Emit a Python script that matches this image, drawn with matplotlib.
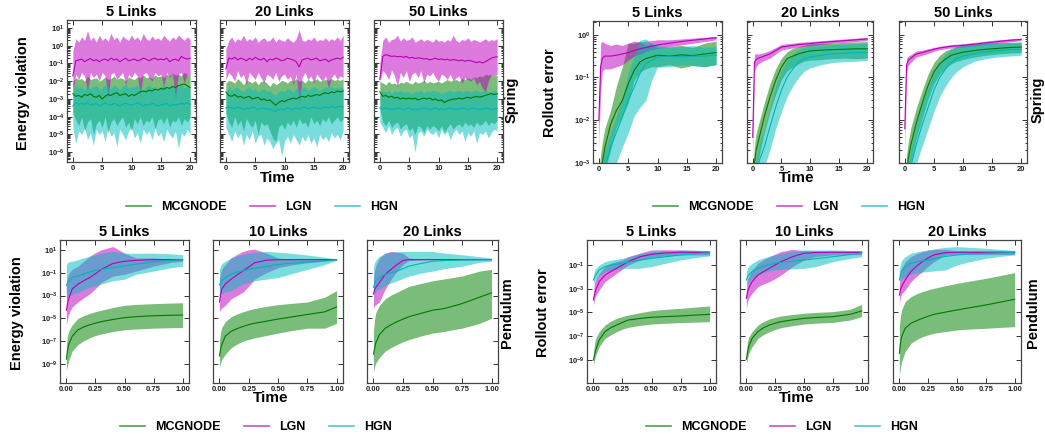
import numpy as np
import matplotlib
matplotlib.use("Agg")
import matplotlib.pyplot as plt
from matplotlib.lines import Line2D
from matplotlib.ticker import LogLocator, NullLocator, NullFormatter, LogFormatterSciNotation

plt.rcParams['font.family'] = 'Liberation Sans'
plt.rcParams['font.weight'] = 'bold'
plt.rcParams['mathtext.fontset'] = 'custom'
plt.rcParams['mathtext.rm'] = 'Liberation Sans:bold'
plt.rcParams['mathtext.bf'] = 'Liberation Sans:bold'
plt.rcParams['mathtext.it'] = 'Liberation Sans:bold'

# ---------------- data (all values are log10) ----------------
# spring, energy violation, time grid 0..20 step 0.5
t_se = np.linspace(0, 20, 41)

se5_lgn_mid = [-1.7, -0.85, -0.8, -0.75, -0.9, -0.8, -0.72, -0.85, -0.78, -0.9,
               -0.8, -0.75, -0.85, -0.7, -0.8, -0.75, -0.9, -0.8, -0.7, -0.85,
               -0.8, -0.75, -0.85, -0.8, -0.7, -0.75, -0.85, -0.75, -0.7, -0.8,
               -0.75, -0.8, -0.7, -0.9, -0.8, -0.75, -0.85, -0.6, -0.7, -0.75, -0.7]
se5_lgn_hi = [-0.3, 0.4, 0.2, 0.5, 0.3, 0.85, 0.3, 0.5, 0.2, 0.6,
              0.3, 0.45, 0.25, 0.7, 0.35, 0.5, 0.2, 0.55, 0.4, 0.3,
              0.6, 0.35, 0.5, 0.25, 0.7, 0.4, 0.3, 0.55, 0.35, 0.45,
              0.3, 0.6, 0.4, 0.25, 0.5, 0.35, 0.6, 0.45, 0.3, 0.5, 0.35]
se5_lgn_lo = [-2.6, -1.6, -1.9, -1.5, -1.7, -2.6, -1.5, -1.8, -1.6, -2.0,
              -1.5, -1.7, -2.9, -1.6, -1.5, -1.9, -1.7, -1.5, -2.2, -1.6,
              -1.8, -1.5, -1.7, -2.8, -1.6, -1.5, -1.8, -2.0, -1.5, -1.7,
              -1.6, -2.3, -1.5, -1.8, -1.6, -3.0, -1.6, -1.5, -2.1, -1.6, -1.7]
se5_mcg_mid = [-2.7, -2.85, -2.8, -2.9, -2.75, -2.8, -2.7, -2.85, -2.9, -2.8,
               -3.0, -2.85, -2.75, -2.8, -2.7, -2.65, -2.8, -2.75, -2.7, -2.85,
               -2.75, -2.8, -2.7, -2.6, -2.55, -2.6, -2.5, -2.55, -2.45, -2.5,
               -2.4, -2.45, -2.35, -2.4, -2.3, -2.35, -2.25, -2.2, -2.15, -2.25, -2.35]
se5_mcg_hi = [-2.0, -1.8, -1.9, -1.85, -2.0, -1.7, -1.9, -1.85, -1.8, -2.0,
              -1.9, -1.75, -1.9, -1.85, -1.7, -1.9, -1.8, -1.85, -2.0, -1.75,
              -1.85, -1.9, -1.75, -1.8, -1.65, -1.8, -1.75, -1.85, -1.65, -1.75,
              -1.7, -1.8, -1.6, -1.7, -1.55, -1.65, -1.6, -1.7, -1.5, -1.6, -1.7]
se5_mcg_lo = [-3.8, -4.2, -4.5, -4.0, -4.8, -4.3, -4.1, -5.0, -4.4, -4.2,
              -4.6, -4.0, -4.9, -4.3, -4.1, -4.5, -4.2, -4.0, -4.6, -4.3,
              -4.8, -4.1, -4.4, -4.0, -4.5, -4.2, -4.3, -4.0, -4.7, -4.2,
              -4.1, -4.4, -4.0, -4.6, -4.2, -4.3, -4.0, -4.5, -4.1, -4.3, -4.0]
se5_hgn_mid = [-3.4, -3.2, -3.3, -3.25, -3.3, -3.2, -3.35, -3.3, -3.25, -3.4,
               -3.3, -3.2, -3.3, -3.35, -3.25, -3.3, -3.4, -3.3, -3.25, -3.3,
               -3.35, -3.3, -3.2, -3.3, -3.4, -3.3, -3.35, -3.25, -3.3, -3.4,
               -3.35, -3.3, -3.25, -3.4, -3.3, -3.35, -3.3, -3.25, -3.3, -3.2, -3.3]
se5_hgn_hi = [-2.6, -2.2, -2.4, -2.3, -2.5, -2.2, -2.4, -2.3, -2.2, -2.5,
              -2.4, -2.2, -2.3, -2.45, -2.2, -2.3, -2.5, -2.3, -2.2, -2.4,
              -2.3, -2.35, -2.2, -2.4, -2.5, -2.3, -2.2, -2.35, -2.3, -2.5,
              -2.3, -2.2, -2.4, -2.3, -2.2, -2.45, -2.3, -2.2, -2.35, -2.3, -2.4]
se5_hgn_lo = [-4.6, -5.5, -4.8, -5.0, -4.6, -5.3, -4.9, -5.6, -4.7, -5.0,
              -4.8, -5.4, -4.6, -5.1, -4.9, -5.7, -4.7, -5.0, -5.3, -4.8,
              -4.6, -5.2, -4.9, -5.5, -4.7, -5.0, -4.8, -5.3, -4.6, -5.1,
              -4.9, -5.4, -4.7, -5.0, -5.2, -4.8, -5.8, -4.9, -5.1, -4.7, -5.0]

se20_lgn_mid = [-1.3, -0.7, -0.75, -0.65, -0.8, -0.7, -0.75, -0.85, -0.7, -0.8,
                -0.65, -0.75, -0.8, -0.7, -0.9, -0.75, -0.8, -0.7, -0.75, -0.85,
                -0.8, -0.7, -0.75, -0.8, -0.9, -1.2, -0.8, -0.75, -0.7, -0.8,
                -0.75, -0.7, -0.85, -0.8, -0.75, -0.9, -0.8, -0.75, -0.7, -0.75, -0.65]
se20_lgn_hi = [-0.2, 0.3, 0.5, 0.2, 0.4, 0.3, 0.6, 0.25, 0.4, 0.3,
               0.5, 0.2, 0.35, 0.45, 0.25, 0.3, 0.5, 0.2, 0.4, 0.3,
               0.25, 0.45, 0.3, 0.2, 0.4, 0.9, 0.3, 0.25, 0.4, 0.3,
               0.5, 0.25, 0.35, 0.3, 0.45, 0.25, 0.4, 0.3, 0.5, 0.3, 0.6]
se20_lgn_lo = [-1.9, -1.5, -1.7, -2.0, -1.4, -1.8, -1.6, -2.2, -1.5, -1.7,
               -1.9, -1.5, -1.8, -2.1, -1.6, -1.7, -1.9, -1.5, -2.0, -1.7,
               -1.6, -1.9, -1.7, -2.2, -1.6, -3.3, -1.8, -1.5, -1.9, -1.7,
               -2.1, -1.6, -1.8, -2.0, -1.7, -2.4, -1.8, -1.6, -1.9, -1.7, -1.8]
se20_mcg_mid = [-2.6, -2.8, -2.85, -2.75, -2.9, -2.85, -2.95, -2.9, -2.85, -3.0,
                -2.95, -2.9, -3.05, -3.0, -3.1, -3.05, -3.2, -3.35, -3.2, -3.1,
                -3.15, -3.05, -3.0, -2.95, -3.0, -2.9, -2.85, -2.9, -2.8, -2.85,
                -2.8, -2.75, -2.8, -2.7, -2.65, -2.7, -2.6, -2.65, -2.55, -2.6, -2.55]
se20_mcg_hi = [-2.1, -1.95, -2.0, -2.1, -1.85, -2.0, -2.2, -1.95, -2.0, -2.1,
               -1.95, -2.2, -2.0, -2.0, -2.1, -2.3, -2.05, -2.2, -2.1, -1.95,
               -2.0, -2.1, -1.95, -2.0, -1.85, -2.0, -1.95, -2.1, -1.9, -2.0,
               -1.95, -1.85, -2.0, -1.95, -1.9, -1.95, -1.85, -1.95, -1.9, -1.95, -1.85]
se20_mcg_lo = [-3.8, -4.3, -4.6, -4.0, -4.5, -4.2, -4.8, -4.1, -4.4, -4.6,
               -4.2, -5.0, -4.3, -4.5, -4.4, -4.8, -5.2, -5.4, -4.6, -4.4,
               -4.7, -4.3, -4.5, -4.2, -4.6, -4.1, -4.4, -4.3, -4.6, -4.0,
               -4.4, -4.2, -4.5, -4.1, -4.3, -4.0, -4.4, -4.2, -4.0, -4.3, -4.1]
se20_hgn_mid = [-3.5, -3.45, -3.5, -3.55, -3.45, -3.5, -3.6, -3.5, -3.55, -3.45,
                -3.5, -3.6, -3.55, -3.5, -3.6, -3.55, -3.65, -3.7, -3.6, -3.55,
                -3.6, -3.5, -3.55, -3.6, -3.5, -3.55, -3.5, -3.45, -3.55, -3.5,
                -3.45, -3.5, -3.55, -3.5, -3.45, -3.5, -3.4, -3.5, -3.45, -3.4, -3.45]
se20_hgn_hi = [-2.7, -2.3, -2.5, -2.4, -2.3, -2.5, -2.6, -2.4, -2.3, -2.5,
               -2.4, -2.6, -2.5, -2.4, -2.6, -2.5, -2.7, -2.8, -2.6, -2.5,
               -2.6, -2.4, -2.5, -2.6, -2.4, -2.5, -2.4, -2.3, -2.5, -2.4,
               -2.3, -2.4, -2.5, -2.4, -2.3, -2.4, -2.3, -2.4, -2.35, -2.3, -2.4]
se20_hgn_lo = [-4.6, -5.0, -5.4, -4.8, -5.2, -4.9, -5.6, -5.0, -5.3, -4.8,
               -5.5, -5.1, -5.0, -5.6, -5.2, -5.4, -5.8, -5.5, -5.3, -6.2,
               -5.4, -5.1, -5.5, -5.0, -5.3, -5.6, -5.1, -5.4, -5.0, -5.5,
               -5.2, -5.7, -5.0, -5.3, -5.1, -5.4, -4.9, -5.2, -5.0, -5.3, -4.8]

se50_lgn_mid = [-1.9, -0.6, -0.5, -0.55, -0.6, -0.58, -0.62, -0.6, -0.65, -0.6,
                -0.7, -0.65, -0.72, -0.68, -0.7, -0.75, -0.72, -0.8, -0.75, -0.7,
                -0.78, -0.74, -0.8, -0.76, -0.82, -0.78, -0.8, -0.85, -0.8, -0.88,
                -0.82, -0.85, -0.9, -0.95, -0.9, -0.97, -0.9, -0.8, -0.7, -0.65, -0.62]
se50_lgn_hi = [-1.0, 0.3, 0.5, 0.2, 0.35, 0.4, 0.6, 0.25, 0.45, 0.3,
               0.35, 0.5, 0.2, 0.3, 0.4, 0.25, 0.35, 0.3, 0.2, 0.4,
               0.25, 0.3, 0.2, 0.35, 0.25, 0.6, 0.3, 0.2, 0.35, 0.3,
               0.45, 0.25, 0.35, 0.3, 0.2, 0.3, 0.4, 0.25, 0.35, 0.3, 0.4]
se50_lgn_lo = [-2.0, -1.4, -1.6, -1.9, -1.35, -1.7, -2.3, -1.5, -1.8, -1.4,
               -2.0, -1.6, -1.5, -1.8, -1.4, -2.1, -1.6, -1.7, -1.5, -1.8,
               -2.0, -1.6, -1.7, -1.9, -1.6, -2.0, -1.8, -1.7, -2.1, -1.8,
               -1.9, -2.0, -1.8, -2.2, -2.0, -2.4, -2.6, -2.0, -1.6, -1.7, -1.6]
se50_mcg_mid = [-2.6, -2.85, -2.8, -2.9, -2.85, -2.95, -2.9, -3.0, -2.95, -3.0,
                -2.95, -3.0, -2.95, -3.05, -3.0, -2.95, -3.0, -2.95, -3.05, -3.0,
                -3.1, -3.05, -3.2, -3.1, -3.05, -3.0, -3.0, -2.95, -3.0, -2.95,
                -2.9, -2.95, -2.9, -2.85, -2.9, -2.85, -2.8, -2.75, -2.7, -2.75, -2.7]
se50_mcg_hi = [-2.0, -2.1, -2.2, -2.0, -2.15, -2.1, -2.2, -2.05, -2.1, -2.0,
               -2.1, -2.15, -2.0, -2.1, -2.05, -1.95, -2.1, -2.0, -2.1, -2.05,
               -2.0, -2.1, -2.0, -1.9, -2.0, -1.95, -1.9, -2.0, -1.85, -1.9,
               -1.8, -1.9, -1.75, -1.8, -1.7, -1.75, -1.6, -1.65, -1.6, -1.7, -1.65]
se50_mcg_lo = [-3.6, -4.3, -4.5, -4.2, -4.6, -4.4, -4.3, -4.7, -4.5, -4.4,
               -4.8, -4.6, -5.0, -4.5, -4.6, -4.9, -4.5, -4.7, -4.5, -4.6,
               -4.8, -4.5, -4.9, -4.6, -4.4, -4.7, -4.5, -4.4, -4.6, -4.3,
               -4.5, -4.4, -4.6, -4.3, -4.5, -4.4, -4.2, -4.5, -4.3, -4.4, -4.2]
se50_hgn_mid = [-3.5, -3.55, -3.5, -3.55, -3.6, -3.55, -3.5, -3.55, -3.6, -3.55,
                -3.5, -3.6, -3.55, -3.6, -3.55, -3.5, -3.55, -3.6, -3.55, -3.5,
                -3.6, -3.55, -3.6, -3.55, -3.5, -3.55, -3.6, -3.55, -3.5, -3.55,
                -3.6, -3.55, -3.5, -3.55, -3.6, -3.55, -3.5, -3.55, -3.6, -3.55, -3.55]
se50_hgn_hi = [-2.8, -2.5, -2.6, -2.5, -2.7, -2.55, -2.6, -2.5, -2.65, -2.55,
               -2.6, -2.7, -2.55, -2.6, -2.5, -2.65, -2.55, -2.6, -2.5, -2.55,
               -2.6, -2.7, -2.6, -2.55, -2.5, -2.6, -2.55, -2.5, -2.6, -2.55,
               -2.5, -2.6, -2.55, -2.5, -2.6, -2.55, -2.5, -2.6, -2.55, -2.5, -2.6]
se50_hgn_lo = [-4.3, -4.6, -4.9, -4.5, -5.0, -4.7, -4.6, -5.1, -4.8, -4.7,
               -5.2, -5.0, -6.0, -4.9, -4.8, -5.1, -4.7, -4.9, -5.0, -4.8,
               -5.2, -4.7, -5.0, -4.8, -5.3, -4.9, -4.7, -5.0, -4.8, -5.4,
               -4.9, -5.1, -4.8, -5.5, -4.9, -5.0, -4.8, -5.2, -4.9, -4.7, -4.8]

# spring, rollout error
t_sr = [0, 0.3, 0.6, 1, 2, 3, 4, 5, 6, 7, 8, 9, 10, 12, 14, 16, 18, 20]

sr5_lgn_mid = [-2.0, -0.75, -0.55, -0.5, -0.5, -0.48, -0.45, -0.42, -0.37, -0.33, -0.3, -0.27, -0.24, -0.2, -0.16, -0.13, -0.1, -0.07]
sr5_lgn_hi = [-1.6, -0.2, -0.15, -0.2, -0.25, -0.22, -0.25, -0.2, -0.15, -0.18, -0.15, -0.14, -0.12, -0.12, -0.1, -0.08, -0.06, -0.04]
sr5_lgn_lo = [-2.6, -1.3, -0.85, -0.8, -0.8, -0.75, -0.7, -0.6, -0.5, -0.45, -0.4, -0.35, -0.32, -0.28, -0.24, -0.2, -0.16, -0.12]
sr5_mcg_mid = [-3.6, -3.3, -3.0, -2.65, -2.1, -1.77, -1.54, -1.15, -0.84, -0.64, -0.56, -0.52, -0.48, -0.5, -0.47, -0.49, -0.45, -0.42]
sr5_mcg_hi = [-3.2, -2.8, -2.5, -2.2, -1.77, -1.2, -0.75, -0.2, -0.2, -0.15, -0.25, -0.2, -0.3, -0.28, -0.25, -0.3, -0.2, -0.15]
sr5_mcg_lo = [-4.2, -3.9, -3.6, -3.2, -2.7, -2.16, -1.9, -1.6, -1.07, -0.87, -0.8, -0.75, -0.75, -0.7, -0.78, -0.72, -0.75, -0.7]
sr5_hgn_mid = [-4.0, -3.7, -3.4, -3.1, -2.63, -2.28, -1.93, -1.54, -1.23, -0.91, -0.68, -0.6, -0.52, -0.5, -0.52, -0.5, -0.5, -0.48]
sr5_hgn_hi = [-3.6, -3.3, -3.0, -2.7, -2.3, -1.9, -1.5, -0.9, -0.5, -0.13, -0.1, -0.2, -0.25, -0.3, -0.28, -0.25, -0.3, -0.28]
sr5_hgn_lo = [-4.5, -4.2, -3.9, -3.6, -3.2, -3.0, -2.63, -2.3, -1.9, -1.7, -1.54, -1.07, -0.76, -0.75, -0.7, -0.72, -0.75, -0.7]

sr20_lgn_mid = [-2.4, -0.64, -0.58, -0.55, -0.5, -0.45, -0.37, -0.29, -0.27, -0.25, -0.23, -0.22, -0.21, -0.18, -0.16, -0.14, -0.12, -0.1]
sr20_lgn_hi = [-1.9, -0.45, -0.45, -0.45, -0.42, -0.37, -0.3, -0.23, -0.21, -0.2, -0.18, -0.17, -0.16, -0.14, -0.12, -0.1, -0.08, -0.06]
sr20_lgn_lo = [-3.0, -0.85, -0.75, -0.68, -0.6, -0.55, -0.45, -0.36, -0.33, -0.31, -0.29, -0.27, -0.26, -0.23, -0.2, -0.18, -0.16, -0.14]
sr20_mcg_mid = [-3.6, -3.0, -2.7, -2.48, -1.93, -1.46, -1.07, -0.76, -0.56, -0.5, -0.45, -0.41, -0.38, -0.36, -0.35, -0.34, -0.33, -0.33]
sr20_mcg_hi = [-3.2, -2.6, -2.3, -2.1, -1.6, -1.15, -0.8, -0.55, -0.4, -0.32, -0.28, -0.25, -0.22, -0.2, -0.2, -0.18, -0.17, -0.16]
sr20_mcg_lo = [-4.2, -3.4, -3.1, -2.9, -2.3, -1.8, -1.4, -1.05, -0.85, -0.75, -0.68, -0.62, -0.6, -0.58, -0.56, -0.55, -0.56, -0.55]
sr20_hgn_mid = [-4.0, -3.6, -3.3, -3.0, -2.63, -2.16, -1.7, -1.3, -0.99, -0.8, -0.64, -0.57, -0.52, -0.48, -0.45, -0.43, -0.42, -0.41]
sr20_hgn_hi = [-3.6, -3.2, -2.9, -2.6, -2.2, -1.7, -1.2, -0.85, -0.6, -0.45, -0.35, -0.3, -0.27, -0.25, -0.23, -0.22, -0.21, -0.2]
sr20_hgn_lo = [-4.5, -4.1, -3.8, -3.5, -3.1, -2.7, -2.2, -1.8, -1.45, -1.2, -1.0, -0.85, -0.78, -0.7, -0.65, -0.63, -0.62, -0.6]

sr50_lgn_mid = [-2.2, -0.7, -0.6, -0.55, -0.45, -0.42, -0.38, -0.34, -0.31, -0.29, -0.27, -0.26, -0.25, -0.22, -0.19, -0.16, -0.13, -0.11]
sr50_lgn_hi = [-1.8, -0.55, -0.5, -0.47, -0.38, -0.36, -0.33, -0.3, -0.27, -0.25, -0.23, -0.22, -0.21, -0.18, -0.15, -0.12, -0.1, -0.08]
sr50_lgn_lo = [-2.8, -0.9, -0.72, -0.65, -0.52, -0.48, -0.44, -0.39, -0.35, -0.33, -0.31, -0.3, -0.29, -0.26, -0.23, -0.2, -0.17, -0.14]
sr50_mcg_mid = [-3.8, -3.2, -2.9, -2.6, -2.05, -1.6, -1.19, -0.87, -0.68, -0.57, -0.48, -0.44, -0.41, -0.37, -0.34, -0.32, -0.3, -0.29]
sr50_mcg_hi = [-3.4, -2.8, -2.5, -2.2, -1.7, -1.3, -0.92, -0.65, -0.48, -0.38, -0.32, -0.28, -0.25, -0.22, -0.2, -0.19, -0.18, -0.17]
sr50_mcg_lo = [-4.3, -3.6, -3.3, -3.0, -2.4, -1.95, -1.5, -1.15, -0.92, -0.78, -0.68, -0.62, -0.58, -0.52, -0.48, -0.45, -0.43, -0.42]
sr50_hgn_mid = [-4.2, -3.7, -3.4, -3.1, -2.55, -2.1, -1.7, -1.3, -1.0, -0.8, -0.65, -0.55, -0.5, -0.44, -0.4, -0.37, -0.35, -0.34]
sr50_hgn_hi = [-3.8, -3.3, -3.0, -2.7, -2.1, -1.6, -1.25, -0.9, -0.62, -0.45, -0.35, -0.28, -0.25, -0.22, -0.2, -0.2, -0.19, -0.18]
sr50_hgn_lo = [-4.7, -4.2, -3.9, -3.6, -3.0, -2.6, -2.2, -1.8, -1.45, -1.2, -1.0, -0.85, -0.75, -0.62, -0.56, -0.52, -0.5, -0.48]

# pendulum
t_p = [0, 0.01, 0.02, 0.05, 0.1, 0.15, 0.2, 0.25, 0.3, 0.4, 0.5, 0.6, 0.75, 0.9, 1.0]

pe5_hgn_mid = [-2.14, -1.9, -1.75, -1.43, -1.29, -1.1, -0.95, -0.8, -0.7, -0.55, -0.4, -0.25, -0.05, 0.08, 0.14]
pe5_hgn_hi = [-0.29, -0.15, -0.05, 0.0, 0.14, 0.3, 0.43, 0.55, 0.71, 0.86, 0.71, 0.7, 0.71, 0.65, 0.57]
pe5_hgn_lo = [-3.29, -3.1, -3.0, -2.9, -2.71, -2.5, -2.29, -2.15, -2.0, -1.71, -1.57, -1.14, -0.86, -0.57, -0.43]
pe5_lgn_mid = [-4.29, -3.7, -3.29, -2.43, -2.0, -1.7, -1.43, -1.1, -0.71, -0.2, 0.0, 0.08, 0.14, 0.14, 0.14]
pe5_lgn_hi = [-1.86, -1.4, -1.1, -0.7, -0.43, 0.0, 0.43, 0.75, 1.0, 1.29, 0.71, 0.29, 0.29, 0.2, 0.2]
pe5_lgn_lo = [-5.6, -5.0, -4.6, -4.0, -3.57, -3.2, -2.86, -2.4, -1.86, -1.3, -1.14, -0.86, -0.43, -0.1, 0.0]
pe5_mcg_mid = [-8.57, -7.8, -7.29, -6.57, -6.0, -5.75, -5.57, -5.42, -5.29, -5.1, -4.94, -4.85, -4.77, -4.73, -4.71]
pe5_mcg_hi = [-7.29, -6.5, -6.1, -5.57, -5.0, -4.75, -4.57, -4.42, -4.29, -4.05, -3.86, -3.78, -3.71, -3.66, -3.63]
pe5_mcg_lo = [-9.57, -9.1, -8.71, -7.86, -7.29, -6.95, -6.71, -6.5, -6.37, -6.15, -6.0, -5.93, -5.86, -5.82, -5.8]

pe10_hgn_mid = [-2.09, -1.85, -1.7, -1.43, -1.14, -0.95, -0.85, -0.71, -0.62, -0.45, -0.29, -0.18, -0.06, 0.05, 0.14]
pe10_hgn_hi = [-0.71, -0.4, -0.2, 0.0, 0.29, 0.45, 0.6, 0.71, 0.78, 0.86, 0.8, 0.71, 0.55, 0.35, 0.2]
pe10_hgn_lo = [-3.0, -2.9, -2.8, -2.7, -2.57, -2.3, -2.0, -1.85, -1.71, -1.57, -1.43, -1.14, -0.71, -0.29, 0.09]
pe10_lgn_mid = [-3.57, -2.9, -2.43, -2.0, -1.57, -1.2, -0.86, -0.5, -0.14, 0.09, 0.14, 0.14, 0.14, 0.14, 0.14]
pe10_lgn_hi = [-1.57, -1.0, -0.7, -0.29, 0.29, 0.6, 0.86, 1.0, 1.06, 0.71, 0.29, 0.15, 0.14, 0.14, 0.14]
pe10_lgn_lo = [-4.43, -4.2, -4.1, -3.86, -3.29, -3.0, -2.71, -2.2, -1.57, -1.0, -0.57, -0.35, -0.14, 0.0, 0.09]
pe10_mcg_mid = [-8.29, -7.7, -7.29, -6.57, -6.14, -5.9, -5.71, -5.55, -5.43, -5.25, -5.06, -4.9, -4.66, -4.43, -4.0]
pe10_mcg_hi = [-7.0, -6.2, -5.8, -5.29, -4.86, -4.62, -4.43, -4.27, -4.14, -3.95, -3.8, -3.7, -3.57, -3.14, -2.57]
pe10_mcg_lo = [-9.29, -8.9, -8.6, -8.14, -7.57, -7.25, -7.0, -6.85, -6.71, -6.5, -6.29, -6.1, -5.86, -5.86, -5.43]

pe20_hgn_mid = [-2.29, -1.9, -1.7, -1.43, -1.14, -1.0, -0.86, -0.65, -0.43, -0.2, 0.0, 0.06, 0.1, 0.12, 0.14]
pe20_hgn_hi = [-0.57, -0.1, 0.1, 0.43, 0.71, 0.78, 0.83, 0.85, 0.86, 0.86, 0.86, 0.72, 0.57, 0.4, 0.29]
pe20_hgn_lo = [-3.0, -2.8, -2.65, -2.43, -2.09, -1.9, -1.71, -1.5, -1.29, -1.05, -0.86, -0.65, -0.43, -0.09, 0.0]
pe20_lgn_mid = [-2.86, -2.5, -2.29, -1.86, -1.14, -0.7, -0.29, 0.06, 0.14, 0.14, 0.14, 0.14, 0.14, 0.14, 0.14]
pe20_lgn_hi = [-1.43, -0.8, -0.4, 0.29, 0.71, 0.86, 0.8, 0.71, 0.29, 0.15, 0.14, 0.14, 0.14, 0.14, 0.14]
pe20_lgn_lo = [-4.14, -3.9, -3.8, -3.57, -2.43, -1.57, -0.86, -0.29, 0.06, 0.12, 0.13, 0.14, 0.14, 0.14, 0.14]
pe20_mcg_mid = [-8.14, -7.6, -7.14, -6.43, -5.86, -5.55, -5.29, -5.07, -4.86, -4.57, -4.29, -4.14, -3.71, -3.14, -2.77]
pe20_mcg_hi = [-6.14, -5.0, -4.5, -3.86, -3.29, -2.95, -2.71, -2.45, -2.2, -1.95, -1.71, -1.55, -1.29, -0.86, -0.71]
pe20_mcg_lo = [-9.71, -9.2, -8.9, -8.43, -7.86, -7.55, -7.29, -7.05, -6.86, -6.55, -6.29, -6.14, -5.86, -5.43, -5.0]

pr5_hgn_mid = [-2.27, -2.05, -1.85, -1.42, -1.14, -1.0, -0.93, -0.86, -0.75, -0.6, -0.44, -0.33, -0.15, -0.03, 0.04]
pr5_hgn_hi = [-1.85, -1.5, -1.3, -1.0, -0.72, -0.6, -0.52, -0.44, -0.3, -0.05, 0.13, 0.2, 0.27, 0.25, 0.2]
pr5_hgn_lo = [-2.69, -2.4, -2.2, -1.85, -1.56, -1.45, -1.35, -1.28, -1.28, -1.28, -1.14, -0.9, -0.58, -0.35, -0.24]
pr5_lgn_mid = [-3.96, -3.5, -3.11, -2.41, -1.85, -1.55, -1.28, -1.0, -0.72, -0.3, -0.1, 0.0, 0.07, 0.07, 0.07]
pr5_lgn_hi = [-3.39, -2.5, -2.2, -1.7, -1.14, -0.85, -0.7, -0.58, -0.3, 0.0, 0.27, 0.28, 0.27, 0.22, 0.2]
pr5_lgn_lo = [-4.38, -3.9, -3.6, -3.11, -2.41, -2.05, -1.7, -1.35, -1.0, -0.58, -0.35, -0.25, -0.15, -0.15, -0.15]
pr5_mcg_mid = [-9.03, -8.6, -8.18, -7.34, -6.63, -6.3, -6.07, -5.85, -5.65, -5.52, -5.42, -5.37, -5.31, -5.22, -5.17]
pr5_mcg_hi = [-8.46, -7.6, -7.2, -6.63, -6.07, -5.75, -5.5, -5.35, -5.23, -5.03, -4.86, -4.76, -4.66, -4.54, -4.46]
pr5_mcg_lo = [-9.45, -9.0, -8.6, -7.9, -7.2, -6.9, -6.63, -6.42, -6.27, -6.1, -5.99, -5.93, -5.87, -5.82, -5.79]

pr10_hgn_mid = [-2.27, -2.0, -1.85, -1.56, -1.28, -1.1, -0.97, -0.86, -0.78, -0.68, -0.58, -0.48, -0.3, -0.12, 0.04]
pr10_hgn_hi = [-1.56, -1.25, -1.1, -0.86, -0.58, -0.4, -0.25, -0.15, -0.05, 0.15, 0.27, 0.27, 0.27, 0.23, 0.2]
pr10_hgn_lo = [-2.83, -2.6, -2.45, -2.13, -1.85, -1.65, -1.5, -1.42, -1.38, -1.32, -1.28, -1.14, -0.72, -0.45, -0.3]
pr10_lgn_mid = [-3.82, -3.3, -2.97, -2.41, -1.85, -1.55, -1.28, -1.0, -0.72, -0.3, -0.01, 0.05, 0.07, 0.07, 0.07]
pr10_lgn_hi = [-3.11, -2.3, -2.0, -1.42, -0.86, -0.55, -0.3, -0.08, 0.13, 0.32, 0.21, 0.2, 0.2, 0.2, 0.2]
pr10_lgn_lo = [-4.66, -4.1, -3.8, -3.39, -2.83, -2.6, -2.41, -2.15, -1.85, -1.14, -0.58, -0.3, -0.15, -0.13, -0.13]
pr10_mcg_mid = [-8.97, -8.4, -7.9, -7.2, -6.63, -6.3, -6.07, -5.92, -5.79, -5.64, -5.51, -5.44, -5.37, -5.17, -4.89]
pr10_mcg_hi = [-8.4, -7.5, -7.1, -6.63, -6.07, -5.78, -5.56, -5.42, -5.31, -5.18, -5.08, -5.01, -4.94, -4.75, -4.32]
pr10_mcg_lo = [-9.31, -8.9, -8.5, -7.9, -7.2, -6.88, -6.63, -6.45, -6.3, -6.13, -5.99, -5.92, -5.85, -5.65, -5.37]

pr20_hgn_mid = [-2.27, -1.8, -1.5, -1.14, -0.86, -0.75, -0.65, -0.58, -0.45, -0.28, -0.15, -0.08, -0.01, 0.03, 0.04]
pr20_hgn_hi = [-1.28, -0.9, -0.6, -0.3, -0.01, 0.1, 0.2, 0.27, 0.35, 0.5, 0.55, 0.5, 0.41, 0.3, 0.21]
pr20_hgn_lo = [-2.41, -2.25, -2.15, -1.99, -1.76, -1.68, -1.6, -1.56, -1.5, -1.42, -1.0, -0.75, -0.44, -0.25, -0.15]
pr20_lgn_mid = [-3.54, -3.1, -2.83, -2.27, -1.56, -1.1, -0.72, -0.4, -0.15, 0.04, 0.07, 0.07, 0.07, 0.07, 0.07]
pr20_lgn_hi = [-2.69, -1.7, -1.3, -0.72, -0.3, -0.05, 0.13, 0.25, 0.32, 0.32, 0.21, 0.2, 0.2, 0.2, 0.2]
pr20_lgn_lo = [-4.24, -3.7, -3.45, -3.11, -2.41, -1.95, -1.56, -1.1, -0.72, -0.15, -0.12, -0.12, -0.12, -0.12, -0.12]
pr20_mcg_mid = [-8.46, -7.6, -7.06, -6.35, -5.93, -5.7, -5.51, -5.33, -5.17, -4.98, -4.8, -4.63, -4.38, -4.09, -3.9]
pr20_mcg_hi = [-6.21, -5.3, -4.8, -4.1, -3.68, -3.43, -3.25, -3.1, -2.97, -2.75, -2.55, -2.38, -2.13, -1.84, -1.65]
pr20_mcg_lo = [-10.3, -9.7, -9.17, -8.32, -7.62, -7.3, -7.06, -6.9, -6.77, -6.62, -6.49, -6.42, -6.35, -6.26, -6.21]

models = ['mcg', 'lgn', 'hgn']
labels = ['MCGNODE', 'LGN', 'HGN']
fill_c = {'mcg': 'green', 'lgn': 'm', 'hgn': 'c'}
line_c = {'mcg': '#007a00', 'lgn': '#b800b8', 'hgn': '#00b5b5'}

# ---------------- figure ----------------
W, H = 1045, 434
fig = plt.figure(figsize=(W / 100, H / 100), dpi=100)


def box(l, t, r, b):
    return [l / W, 1 - b / H, (r - l) / W, (b - t) / H]


def draw_panel(ax, key, t, title, xlim, ylim, xticks, xtl, yticks=None):
    for m in models:
        mid = 10 ** np.array(globals()[f'{key}_{m}_mid'])
        lo = 10 ** np.array(globals()[f'{key}_{m}_lo'])
        hi = 10 ** np.array(globals()[f'{key}_{m}_hi'])
        ax.fill_between(t, lo, hi, color=fill_c[m], alpha=0.52, lw=0)
        ax.plot(t, mid, color=line_c[m], lw=0.8)
    ax.set_yscale('log')
    ax.set_xlim(*xlim)
    ax.set_ylim(*ylim)
    ax.set_xticks(xticks)
    ax.set_xticklabels(xtl)
    if yticks is None:
        ax.yaxis.set_major_locator(LogLocator(base=10, numticks=30))
        ax.yaxis.set_minor_locator(LogLocator(base=10, subs=np.arange(2, 10), numticks=30))
        ax.yaxis.set_minor_formatter(NullFormatter())
    else:
        ax.set_yticks(yticks)
        ax.yaxis.set_minor_locator(NullLocator())
    ax.yaxis.set_major_formatter(LogFormatterSciNotation())
    ax.tick_params(which='both', direction='in', top=True, right=True, labelsize=5.5,
                   width=0.7, colors='#333333', labelcolor='#222222')
    ax.tick_params(which='major', length=3.5, pad=2)
    ax.tick_params(which='minor', length=1.8)
    for s in ax.spines.values():
        s.set_color('#444444')
        s.set_linewidth(0.9)
    ax.set_title(title, fontsize=10.5, fontweight='bold', pad=3)


sx = [0, 5, 10, 15, 20]
sxl = ['0', '5', '10', '15', '20']
px = [0, 0.25, 0.5, 0.75, 1.0]
pxl = ['0.00', '0.25', '0.50', '0.75', '1.00']

groups = [
    ([(67, 20, 196, 162), (220, 20, 349, 162), (374, 20, 503, 162)],
     ['se5', 'se20', 'se50'], ['5 Links', '20 Links', '50 Links'],
     t_se, (-1, 21), (10 ** -6.55, 10 ** 1.45), sx, sxl, None),
    ([(593, 21, 722, 163), (747, 21, 873, 163), (899, 21, 1027, 163)],
     ['sr5', 'sr20', 'sr50'], ['5 Links', '20 Links', '50 Links'],
     t_sr, (-1, 21), (1e-3, 10 ** 0.32), sx, sxl, None),
    ([(60, 240, 189, 383), (213, 240, 343, 383), (367, 240, 498, 383)],
     ['pe5', 'pe10', 'pe20'], ['5 Links', '10 Links', '20 Links'],
     t_p, (-0.055, 1.055), (10 ** -10.66, 10 ** 1.86), px, pxl,
     [1e1, 1e-1, 1e-3, 1e-5, 1e-7, 1e-9]),
    ([(587, 240, 716, 383), (740, 240, 868, 383), (893, 240, 1021, 383)],
     ['pr5', 'pr10', 'pr20'], ['5 Links', '10 Links', '20 Links'],
     t_p, (-0.055, 1.055), (10 ** -10.97, 10 ** 1.11), px, pxl,
     [1e-1, 1e-3, 1e-5, 1e-7, 1e-9]),
]

for boxes, keys, titles, t, xlim, ylim, xt, xtl, yt in groups:
    for i, (b, k, ti) in enumerate(zip(boxes, keys, titles)):
        ax = fig.add_axes(box(*b))
        draw_panel(ax, k, t, ti, xlim, ylim, xt, xtl, yt)
        if i > 0:
            ax.tick_params(labelleft=False)

# axis / row labels
lab = dict(fontsize=10.5, fontweight='bold', ha='center', va='center')
fig.text(23 / W, 1 - 93 / H, 'Energy violation', rotation=90, **lab)
fig.text(550 / W, 1 - 93 / H, 'Rollout error', rotation=90, **lab)
fig.text(17 / W, 1 - 313 / H, 'Energy violation', rotation=90, **lab)
fig.text(543 / W, 1 - 313 / H, 'Rollout error', rotation=90, **lab)
fig.text(512 / W, 1 - 100 / H, 'Spring', rotation=90, **lab)
fig.text(1038 / W, 1 - 100 / H, 'Spring', rotation=90, **lab)
fig.text(507 / W, 1 - 313 / H, 'Pendulum', rotation=90, **lab)
fig.text(1033 / W, 1 - 313 / H, 'Pendulum', rotation=90, **lab)

tl = dict(fontsize=11, fontweight='bold', ha='center', va='center')
fig.text(278 / W, 1 - 178 / H, 'Time', **tl)
fig.text(797 / W, 1 - 178 / H, 'Time', **tl)
fig.text(271 / W, 1 - 398 / H, 'Time', **tl)
fig.text(797 / W, 1 - 398 / H, 'Time', **tl)

# legends
handles = [Line2D([], [], color=line_c[m], lw=1.2, alpha=0.7) for m in models]
for cx, cy in [(262, 207), (789, 207), (256, 427), (782, 427)]:
    fig.legend(handles, labels, loc='center', bbox_to_anchor=(cx / W, 1 - cy / H),
               ncol=3, frameon=False, prop={'weight': 'bold', 'size': 9},
               handlelength=2.0, handletextpad=0.8, columnspacing=1.9)

fig.savefig('out.png', dpi=100)
